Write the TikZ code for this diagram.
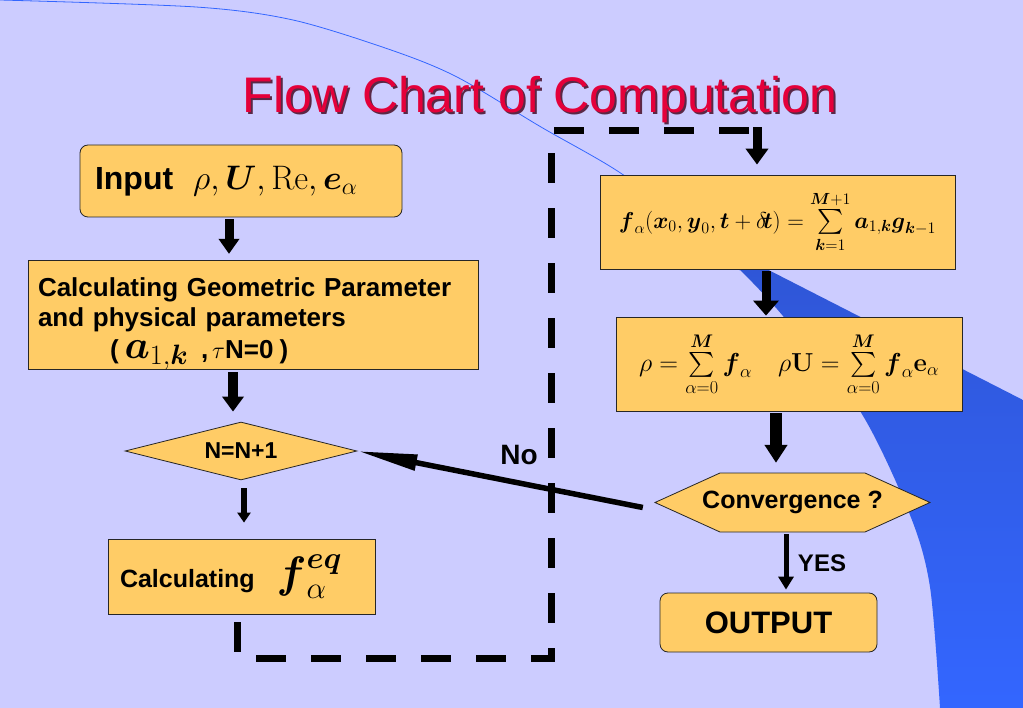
\RequirePackage{fix-cm}
\documentclass[tikz,border=0pt]{standalone}
\usepackage{amsmath}
\usepackage[no-math]{fontspec}
\setmainfont{Liberation Sans}
\usetikzlibrary{arrows.meta,shapes.geometric,calc}
\definecolor{bg}{RGB}{204,204,255}
\definecolor{boxfill}{RGB}{255,204,102}
\definecolor{deco}{RGB}{51,102,255}
\definecolor{decodark}{RGB}{47,85,212}
\definecolor{titlered}{RGB}{228,0,58}
\definecolor{titleshadow}{RGB}{90,40,70}
\newcommand{\fs}[2]{\fontsize{#1}{#2}\selectfont}
\begin{document}
\begin{tikzpicture}[x=1pt,y=-1pt,
  box/.style={draw=black!85, line width=0.8pt, fill=boxfill, inner sep=0pt},
  rbox/.style={box, rounded corners=8pt},
  barrow/.style n args={3}{draw=black, line width=#1pt, -{Triangle[width=#2pt,length=#3pt]}},
  lbl/.style={font=\bfseries}]
\fill[bg] (0,0) rectangle (1023,708);
\useasboundingbox (0,0) rectangle (1023,708);
% decoration
\shade[top color=decodark, bottom color=deco] plot[smooth] coordinates {(700,235) (740,270) (783,316) (860,411) (910,515) (930,587) (940,708)} -- (1023,708) -- (1023,400) -- cycle;
\draw[deco, line width=0.8pt] plot[smooth] coordinates {(0,0) (196,7) (293,20) (391,50) (457,77) (541,127) (622,174) (700,235) (740,270)};
% title
\node[anchor=base, font=\fs{50}{56}, text=titleshadow] at (542,115) {Flow Chart of Computation};
\node[anchor=base, font=\fs{50}{56}, text=titlered] (title) at (540,113) {Flow Chart of Computation};
% nodes
\node[rbox, minimum width=322pt, minimum height=72pt, text width=292pt, align=left, font=\bfseries\fs{32}{36}] (input) at (241,181)
  {Input\hspace{20pt}\fs{34}{36}$\rho,\boldsymbol{U},\mathrm{Re},\boldsymbol{e}_\alpha$};
\node[box, minimum width=450pt, minimum height=106pt, text width=430pt, align=left, font=\bfseries\fs{26}{30}] (geom) at (253,315)
  {\rule{0pt}{36pt}Calculating Geometric Parameter\\and physical parameters\\[2pt]\hspace*{72pt}(\hspace{6pt}{\fs{40}{30}$\boldsymbol{a}_{1,\boldsymbol{k}}$}\hspace{4pt} ,\hspace{4pt}{\fs{24}{30}$\tau$}N=0\hspace{6pt})};
\node[diamond, draw=black!85, line width=0.8pt, fill=boxfill, aspect=4, inner sep=0pt, minimum width=232pt, minimum height=58pt, font=\bfseries\fs{23}{26}] (nn) at (241,451) {N=N+1};
\node[box, minimum width=267pt, minimum height=75pt, text width=243pt, align=left, font=\bfseries\fs{25}{28}] (feq) at (241.5,576.5)
  {Calculating\hspace{22pt}{\fs{44}{44}$\boldsymbol{f}_\alpha^{\boldsymbol{eq}}$}};
\node[box, minimum width=355pt, minimum height=94pt, font=\fs{23}{25}] (b1) at (777.5,222)
  {$\boldsymbol{f}_\alpha(\boldsymbol{x}_0,\boldsymbol{y}_0,\boldsymbol{t}+\delta\!\boldsymbol{t}) = \sum\limits_{\boldsymbol{k}=1}^{\boldsymbol{M}+1}\boldsymbol{a}_{1,\boldsymbol{k}}\boldsymbol{g}_{\boldsymbol{k}-1}$};
\node[box, minimum width=346pt, minimum height=94pt, font=\fs{26}{28}] (b2) at (789,364)
  {$\rho = \sum\limits_{\alpha=0}^{\boldsymbol{M}}\boldsymbol{f}_\alpha\quad \rho\mathbf{U} = \sum\limits_{\alpha=0}^{\boldsymbol{M}}\boldsymbol{f}_\alpha\mathbf{e}_\alpha$};
% convergence hexagon (pointed left and right)
\fill[boxfill, draw=black!85, line width=0.8pt] (655,502.5) -- (720,473) -- (865,473) -- (930,502.5) -- (865,532) -- (720,532) -- cycle;
\node[inner sep=0pt, minimum width=275pt, minimum height=59pt, font=\bfseries\fs{25}{28}] (conv) at (792.5,502.5) {Convergence ?};
\node[rbox, minimum width=217pt, minimum height=59pt, font=\bfseries\fs{31}{34}] (out) at (768.5,622.5) {OUTPUT};
% dashed loop
\coordinate (c1) at (551,658);
\coordinate (c2) at (551,131);
\coordinate (dtop) at (757,131);
\draw[line width=7pt, dash pattern=on 30pt off 25pt] ([xshift=-4.5pt,yshift=-8pt]feq.south) |- (c1) -- (c2) -- (dtop);
% arrows
\draw[barrow={9}{20}{15}] ([xshift=-12pt,yshift=-2pt]input.south) -- ([xshift=-24pt,yshift=6pt]geom.north);
\draw[barrow={10}{21}{15}] ([xshift=-20pt,yshift=-2pt]geom.south) -- ([xshift=-8pt,yshift=10pt]nn.north);
\draw[barrow={6}{13}{10}] ([xshift=3pt,yshift=-8pt]nn.south) -- ([xshift=2.5pt,yshift=16pt]feq.north);
\draw[barrow={9}{22}{16}] ([yshift=3.5pt]dtop) -- ([xshift=-20.5pt,yshift=10pt]b1.north);
\draw[barrow={9}{25}{15}] ([xshift=-11.5pt,yshift=-2pt]b1.south) -- ([xshift=-23pt,yshift=1pt]b2.north);
\draw[barrow={12}{22}{18}] ([xshift=-13pt,yshift=-2pt]b2.south) -- ([xshift=-16.5pt,yshift=10pt]conv.north);
\draw[barrow={5}{15}{13}] ([xshift=-6.5pt,yshift=-2pt]conv.south) -- ([xshift=17.5pt,yshift=3pt]out.north);
\draw[draw=black, line width=5.5pt, -{Triangle[width=15pt,length=60pt]}] ([xshift=-12pt,yshift=-5pt]conv.west) -- (nn.east);
% labels
\node[lbl, font=\bfseries\fs{24}{26}] (yes) at (822,563) {YES};
\node[lbl, font=\bfseries\fs{28}{30}] (no) at (519,455) {No};
\end{tikzpicture}
\end{document}
